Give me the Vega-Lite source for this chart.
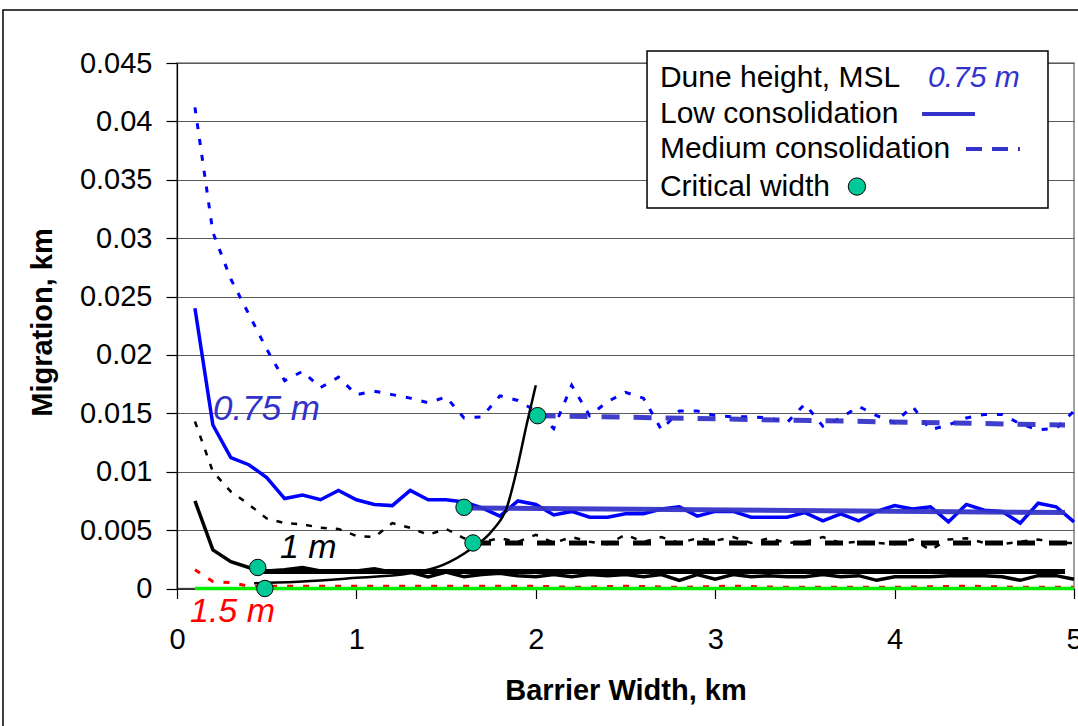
{
  "$schema": "https://vega.github.io/schema/vega-lite/v6.json",
  "autosize": "none",
  "width": 897,
  "height": 525.5,
  "padding": {"left": 177, "top": 63, "right": 4, "bottom": 137.5},
  "background": "white",
  "config": {
    "font": "Liberation Sans",
    "view": {"stroke": "#808080", "strokeWidth": 1.5},
    "axis": {"labelFont": "Liberation Sans", "titleFont": "Liberation Sans", "labelColor": "black", "titleColor": "black", "domainColor": "black", "tickColor": "black", "domainWidth": 1.2, "tickWidth": 1.2}
  },
  "datasets": {
    "low075": [
      {"w": 0.1, "m": 0.0240}, {"w": 0.2, "m": 0.0140}, {"w": 0.3, "m": 0.0112}, {"w": 0.4, "m": 0.0106}, {"w": 0.5, "m": 0.0095},
      {"w": 0.6, "m": 0.0077}, {"w": 0.7, "m": 0.0080}, {"w": 0.8, "m": 0.0076}, {"w": 0.9, "m": 0.0084}, {"w": 1.0, "m": 0.0076},
      {"w": 1.1, "m": 0.0072}, {"w": 1.2, "m": 0.0071}, {"w": 1.3, "m": 0.0084}, {"w": 1.4, "m": 0.0076}, {"w": 1.5, "m": 0.0076},
      {"w": 1.6, "m": 0.0074}, {"w": 1.7, "m": 0.0069}, {"w": 1.8, "m": 0.0062}, {"w": 1.9, "m": 0.0075}, {"w": 2.0, "m": 0.0072},
      {"w": 2.1, "m": 0.0063}, {"w": 2.2, "m": 0.0066}, {"w": 2.3, "m": 0.0061}, {"w": 2.4, "m": 0.0061}, {"w": 2.5, "m": 0.0064},
      {"w": 2.6, "m": 0.0064}, {"w": 2.7, "m": 0.0068}, {"w": 2.8, "m": 0.0070}, {"w": 2.9, "m": 0.0062}, {"w": 3.0, "m": 0.0066},
      {"w": 3.1, "m": 0.0066}, {"w": 3.2, "m": 0.0061}, {"w": 3.3, "m": 0.0061}, {"w": 3.4, "m": 0.0061}, {"w": 3.5, "m": 0.0065},
      {"w": 3.6, "m": 0.0058}, {"w": 3.7, "m": 0.0064}, {"w": 3.8, "m": 0.0058}, {"w": 3.9, "m": 0.0066}, {"w": 4.0, "m": 0.0071},
      {"w": 4.1, "m": 0.0068}, {"w": 4.2, "m": 0.0070}, {"w": 4.3, "m": 0.0057}, {"w": 4.4, "m": 0.0072}, {"w": 4.5, "m": 0.0067},
      {"w": 4.6, "m": 0.0066}, {"w": 4.7, "m": 0.0056}, {"w": 4.8, "m": 0.0073}, {"w": 4.9, "m": 0.0070}, {"w": 5.0, "m": 0.0057}
    ],
    "med075": [
      {"w": 0.1, "m": 0.0412}, {"w": 0.2, "m": 0.0305}, {"w": 0.3, "m": 0.0265}, {"w": 0.4, "m": 0.0235}, {"w": 0.5, "m": 0.0205},
      {"w": 0.6, "m": 0.0178}, {"w": 0.7, "m": 0.0186}, {"w": 0.8, "m": 0.0172}, {"w": 0.9, "m": 0.0181}, {"w": 1.0, "m": 0.0166},
      {"w": 1.1, "m": 0.0169}, {"w": 1.2, "m": 0.0166}, {"w": 1.3, "m": 0.0163}, {"w": 1.4, "m": 0.0159}, {"w": 1.5, "m": 0.0164},
      {"w": 1.6, "m": 0.0146}, {"w": 1.7, "m": 0.0147}, {"w": 1.8, "m": 0.0165}, {"w": 1.9, "m": 0.0161}, {"w": 2.0, "m": 0.0152},
      {"w": 2.1, "m": 0.0137}, {"w": 2.2, "m": 0.0174}, {"w": 2.3, "m": 0.0148}, {"w": 2.4, "m": 0.0160}, {"w": 2.5, "m": 0.0168},
      {"w": 2.6, "m": 0.0163}, {"w": 2.7, "m": 0.0136}, {"w": 2.8, "m": 0.0152}, {"w": 2.9, "m": 0.0152}, {"w": 3.0, "m": 0.0148},
      {"w": 3.1, "m": 0.0147}, {"w": 3.2, "m": 0.0147}, {"w": 3.3, "m": 0.0146}, {"w": 3.4, "m": 0.0142}, {"w": 3.5, "m": 0.0158},
      {"w": 3.6, "m": 0.0139}, {"w": 3.7, "m": 0.0146}, {"w": 3.8, "m": 0.0156}, {"w": 3.9, "m": 0.0148}, {"w": 4.0, "m": 0.0142},
      {"w": 4.1, "m": 0.0156}, {"w": 4.2, "m": 0.0136}, {"w": 4.3, "m": 0.0140}, {"w": 4.4, "m": 0.0146}, {"w": 4.5, "m": 0.0149},
      {"w": 4.6, "m": 0.0149}, {"w": 4.7, "m": 0.0141}, {"w": 4.8, "m": 0.0136}, {"w": 4.9, "m": 0.0137}, {"w": 5.0, "m": 0.0152}
    ],
    "low1": [
      {"w": 0.1, "m": 0.0075}, {"w": 0.2, "m": 0.0033}, {"w": 0.3, "m": 0.0023}, {"w": 0.4, "m": 0.0018}, {"w": 0.5, "m": 0.0015},
      {"w": 0.6, "m": 0.0016}, {"w": 0.7, "m": 0.0018}, {"w": 0.8, "m": 0.0015}, {"w": 0.9, "m": 0.0015}, {"w": 1.0, "m": 0.0015},
      {"w": 1.1, "m": 0.0017}, {"w": 1.2, "m": 0.0014}, {"w": 1.3, "m": 0.0014}, {"w": 1.4, "m": 0.0010}, {"w": 1.5, "m": 0.0014},
      {"w": 1.6, "m": 0.0010}, {"w": 1.7, "m": 0.0012}, {"w": 1.8, "m": 0.0013}, {"w": 1.9, "m": 0.0011}, {"w": 2.0, "m": 0.0010},
      {"w": 2.1, "m": 0.0012}, {"w": 2.2, "m": 0.0010}, {"w": 2.3, "m": 0.0012}, {"w": 2.4, "m": 0.0011}, {"w": 2.5, "m": 0.0012},
      {"w": 2.6, "m": 0.0010}, {"w": 2.7, "m": 0.0012}, {"w": 2.8, "m": 0.0007}, {"w": 2.9, "m": 0.0012}, {"w": 3.0, "m": 0.0008},
      {"w": 3.1, "m": 0.0012}, {"w": 3.2, "m": 0.0010}, {"w": 3.3, "m": 0.0011}, {"w": 3.4, "m": 0.0010}, {"w": 3.5, "m": 0.0010},
      {"w": 3.6, "m": 0.0012}, {"w": 3.7, "m": 0.0010}, {"w": 3.8, "m": 0.0011}, {"w": 3.9, "m": 0.0007}, {"w": 4.0, "m": 0.0010},
      {"w": 4.1, "m": 0.0010}, {"w": 4.2, "m": 0.0010}, {"w": 4.3, "m": 0.0011}, {"w": 4.4, "m": 0.0011}, {"w": 4.5, "m": 0.0011},
      {"w": 4.6, "m": 0.0010}, {"w": 4.7, "m": 0.0007}, {"w": 4.8, "m": 0.0011}, {"w": 4.9, "m": 0.0011}, {"w": 5.0, "m": 0.0008}
    ],
    "med1": [
      {"w": 0.1, "m": 0.0143}, {"w": 0.2, "m": 0.0100}, {"w": 0.3, "m": 0.0083}, {"w": 0.4, "m": 0.0072}, {"w": 0.5, "m": 0.0060},
      {"w": 0.6, "m": 0.0056}, {"w": 0.7, "m": 0.0055}, {"w": 0.8, "m": 0.0052}, {"w": 0.9, "m": 0.0051}, {"w": 1.0, "m": 0.0045},
      {"w": 1.1, "m": 0.0044}, {"w": 1.2, "m": 0.0056}, {"w": 1.3, "m": 0.0052}, {"w": 1.4, "m": 0.0046}, {"w": 1.5, "m": 0.0051},
      {"w": 1.6, "m": 0.0043}, {"w": 1.7, "m": 0.0040}, {"w": 1.8, "m": 0.0043}, {"w": 1.9, "m": 0.0040}, {"w": 2.0, "m": 0.0046},
      {"w": 2.1, "m": 0.0039}, {"w": 2.2, "m": 0.0044}, {"w": 2.3, "m": 0.0040}, {"w": 2.4, "m": 0.0038}, {"w": 2.5, "m": 0.0046},
      {"w": 2.6, "m": 0.0040}, {"w": 2.7, "m": 0.0044}, {"w": 2.8, "m": 0.0039}, {"w": 2.9, "m": 0.0043}, {"w": 3.0, "m": 0.0041},
      {"w": 3.1, "m": 0.0044}, {"w": 3.2, "m": 0.0039}, {"w": 3.3, "m": 0.0043}, {"w": 3.4, "m": 0.0039}, {"w": 3.5, "m": 0.0040},
      {"w": 3.6, "m": 0.0044}, {"w": 3.7, "m": 0.0039}, {"w": 3.8, "m": 0.0040}, {"w": 3.9, "m": 0.0039}, {"w": 4.0, "m": 0.0038},
      {"w": 4.1, "m": 0.0042}, {"w": 4.2, "m": 0.0033}, {"w": 4.3, "m": 0.0042}, {"w": 4.4, "m": 0.0043}, {"w": 4.5, "m": 0.0039},
      {"w": 4.6, "m": 0.0038}, {"w": 4.7, "m": 0.0040}, {"w": 4.8, "m": 0.0042}, {"w": 4.9, "m": 0.0039}, {"w": 5.0, "m": 0.0039}
    ],
    "med15": [
      {"w": 0.1, "m": 0.0016}, {"w": 0.2, "m": 0.0006}, {"w": 0.3, "m": 0.0005}, {"w": 0.4, "m": 0.0002}, {"w": 0.6, "m": 0.0002},
      {"w": 0.8, "m": 0.0002}, {"w": 1.0, "m": 0.0002}, {"w": 1.2, "m": 0.0002}, {"w": 1.4, "m": 0.0002}, {"w": 1.6, "m": 0.0002},
      {"w": 1.8, "m": 0.0002}, {"w": 2.0, "m": 0.0002}, {"w": 2.2, "m": 0.0001}, {"w": 2.5, "m": 0.0002}, {"w": 2.8, "m": 0.0001},
      {"w": 3.1, "m": 0.0002}, {"w": 3.4, "m": 0.0001}, {"w": 3.7, "m": 0.0001}, {"w": 4.0, "m": 0.0001}, {"w": 4.4, "m": 0.0002},
      {"w": 4.7, "m": 0.0001}, {"w": 5.0, "m": 0.0001}
    ],
    "low15": [
      {"w": 0.1, "m": 0.0}, {"w": 5.0, "m": 0.0}
    ],
    "curve": [
      {"w": 0.43, "m": 0.00045}, {"w": 0.7, "m": 0.0006}, {"w": 0.96, "m": 0.00087}, {"w": 1.3, "m": 0.0013},
      {"w": 1.48, "m": 0.002}, {"w": 1.63, "m": 0.0033}, {"w": 1.76, "m": 0.005}, {"w": 1.84, "m": 0.007},
      {"w": 1.89, "m": 0.0099}, {"w": 1.95, "m": 0.0141}, {"w": 2.0, "m": 0.0174}
    ],
    "critical": [
      {"w": 0.45, "m": 0.0018}, {"w": 0.49, "m": 0.0}, {"w": 1.6, "m": 0.00695}, {"w": 1.65, "m": 0.0039}, {"w": 2.01, "m": 0.0148}
    ],
    "trends": [
      {"s": "low075", "w": 1.6, "m": 0.0069}, {"s": "low075", "w": 4.95, "m": 0.0065},
      {"s": "med075", "w": 2.01, "m": 0.0148}, {"s": "med075", "w": 4.95, "m": 0.0140},
      {"s": "low1", "w": 0.45, "m": 0.00145}, {"s": "low1", "w": 4.95, "m": 0.00145},
      {"s": "med1", "w": 1.65, "m": 0.0039}, {"s": "med1", "w": 5.0, "m": 0.0039}
    ]
  },
  "layer": [
    {"data": {"name": "med075"}, "mark": {"type": "line", "color": "#0000ff", "strokeWidth": 3, "strokeDash": [6, 10]},
      "encoding": {
        "x": {"field": "w", "type": "quantitative", "scale": {"domain": [0, 5], "nice": false, "zero": false},
          "axis": {"title": "Barrier Width, km", "values": [0, 1, 2, 3, 4, 5], "format": "d", "grid": false, "labelFontSize": 29, "labelPadding": 27, "tickSize": 10, "titleFontSize": 29, "titleFontWeight": "bold", "titleBaseline": "alphabetic", "titleY": 110.5, "labelFlush": false}},
        "y": {"field": "m", "type": "quantitative", "scale": {"domain": [0, 0.045], "nice": false},
          "axis": {"title": "Migration, km", "values": [0, 0.005, 0.01, 0.015, 0.02, 0.025, 0.03, 0.035, 0.04, 0.045], "format": "~g", "grid": true, "gridColor": "#5a5a5a", "gridWidth": 1, "labelFontSize": 29, "labelPadding": 14, "tickSize": 11, "titleFontSize": 29, "titleFontWeight": "bold", "titleBaseline": "alphabetic", "titleX": -126, "titleY": 259, "titleAlign": "center", "labelFlush": false}}
      }},
    {"data": {"name": "low075"}, "mark": {"type": "line", "color": "#0000ff", "strokeWidth": 3.5},
      "encoding": {"x": {"field": "w", "type": "quantitative"}, "y": {"field": "m", "type": "quantitative"}}},
    {"data": {"name": "med1"}, "mark": {"type": "line", "color": "black", "strokeWidth": 2.5, "strokeDash": [6, 9]},
      "encoding": {"x": {"field": "w", "type": "quantitative"}, "y": {"field": "m", "type": "quantitative"}}},
    {"data": {"name": "low1"}, "mark": {"type": "line", "color": "black", "strokeWidth": 3.5},
      "encoding": {"x": {"field": "w", "type": "quantitative"}, "y": {"field": "m", "type": "quantitative"}}},
    {"data": {"name": "med15"}, "mark": {"type": "line", "color": "#ff0000", "strokeWidth": 3, "strokeDash": [6, 10]},
      "encoding": {"x": {"field": "w", "type": "quantitative"}, "y": {"field": "m", "type": "quantitative"}}},
    {"data": {"name": "low15"}, "mark": {"type": "line", "color": "#00ee00", "strokeWidth": 3.5},
      "encoding": {"x": {"field": "w", "type": "quantitative"}, "y": {"field": "m", "type": "quantitative"}}},
    {"data": {"name": "trends"}, "transform": [{"filter": "datum.s === 'low075'"}], "mark": {"type": "line", "color": "#3535c8", "strokeWidth": 5, "opacity": 0.95},
      "encoding": {"x": {"field": "w", "type": "quantitative"}, "y": {"field": "m", "type": "quantitative"}}},
    {"data": {"name": "trends"}, "transform": [{"filter": "datum.s === 'med075'"}], "mark": {"type": "line", "color": "#3535c8", "strokeWidth": 5, "strokeDash": [18, 14], "opacity": 0.95},
      "encoding": {"x": {"field": "w", "type": "quantitative"}, "y": {"field": "m", "type": "quantitative"}}},
    {"data": {"name": "trends"}, "transform": [{"filter": "datum.s === 'low1'"}], "mark": {"type": "line", "color": "black", "strokeWidth": 5},
      "encoding": {"x": {"field": "w", "type": "quantitative"}, "y": {"field": "m", "type": "quantitative"}}},
    {"data": {"name": "trends"}, "transform": [{"filter": "datum.s === 'med1'"}], "mark": {"type": "line", "color": "black", "strokeWidth": 5, "strokeDash": [18, 14]},
      "encoding": {"x": {"field": "w", "type": "quantitative"}, "y": {"field": "m", "type": "quantitative"}}},
    {"data": {"name": "curve"}, "mark": {"type": "line", "color": "black", "strokeWidth": 2.5, "interpolate": "monotone"},
      "encoding": {"x": {"field": "w", "type": "quantitative"}, "y": {"field": "m", "type": "quantitative"}}},
    {"data": {"name": "critical"}, "mark": {"type": "point", "shape": "circle", "filled": true, "fill": "#00c896", "stroke": "black", "strokeWidth": 1, "size": 270, "opacity": 1},
      "encoding": {"x": {"field": "w", "type": "quantitative"}, "y": {"field": "m", "type": "quantitative"}}},
    {"data": {"values": [{}]}, "mark": {"type": "text", "text": "0.75 m", "fontSize": 35, "fontStyle": "italic", "color": "#3333cc", "align": "left", "baseline": "alphabetic"},
      "encoding": {"x": {"datum": 0.2007}, "y": {"datum": 0.01446}}},
    {"data": {"values": [{}]}, "mark": {"type": "text", "text": "1 m", "fontSize": 34, "fontStyle": "italic", "color": "black", "align": "left", "baseline": "alphabetic"},
      "encoding": {"x": {"datum": 0.574}, "y": {"datum": 0.00261}}},
    {"data": {"values": [{}]}, "mark": {"type": "text", "text": "1.5 m", "fontSize": 34, "fontStyle": "italic", "color": "#ff0000", "align": "left", "baseline": "alphabetic"},
      "encoding": {"x": {"datum": 0.0725}, "y": {"datum": -0.00287}}},
    {"data": {"values": [{}]}, "mark": {"type": "rect", "fill": "white", "stroke": "black", "strokeWidth": 1.5},
      "encoding": {"x": {"datum": 2.62}, "x2": {"datum": 4.855}, "y": {"datum": 0.04602}, "y2": {"datum": 0.03258}}},
    {"data": {"values": [{}]}, "mark": {"type": "text", "text": "Dune height, MSL", "fontSize": 30, "color": "black", "align": "left", "baseline": "alphabetic"},
      "encoding": {"x": {"datum": 2.692}, "y": {"datum": 0.04297}}},
    {"data": {"values": [{}]}, "mark": {"type": "text", "text": "0.75 m", "fontSize": 30, "fontStyle": "italic", "color": "#3333cc", "align": "left", "baseline": "alphabetic"},
      "encoding": {"x": {"datum": 4.186}, "y": {"datum": 0.04297}}},
    {"data": {"values": [{}]}, "mark": {"type": "text", "text": "Low consolidation", "fontSize": 30, "color": "black", "align": "left", "baseline": "alphabetic"},
      "encoding": {"x": {"datum": 2.692}, "y": {"datum": 0.03989}}},
    {"data": {"values": [{}]}, "mark": {"type": "text", "text": "Medium consolidation", "fontSize": 30, "color": "black", "align": "left", "baseline": "alphabetic"},
      "encoding": {"x": {"datum": 2.692}, "y": {"datum": 0.03684}}},
    {"data": {"values": [{}]}, "mark": {"type": "text", "text": "Critical width", "fontSize": 30, "color": "black", "align": "left", "baseline": "alphabetic"},
      "encoding": {"x": {"datum": 2.692}, "y": {"datum": 0.03361}}},
    {"data": {"values": [{}]}, "mark": {"type": "rule", "color": "#3333cc", "strokeWidth": 4},
      "encoding": {"x": {"datum": 4.153}, "x2": {"datum": 4.448}, "y": {"datum": 0.04063}}},
    {"data": {"values": [{}]}, "mark": {"type": "rule", "color": "#3333cc", "strokeWidth": 4, "strokeDash": [16, 10]},
      "encoding": {"x": {"datum": 4.398}, "x2": {"datum": 4.699}, "y": {"datum": 0.03764}}},
    {"data": {"values": [{}]}, "mark": {"type": "point", "shape": "circle", "filled": true, "fill": "#00c896", "stroke": "black", "strokeWidth": 1, "size": 300, "opacity": 1},
      "encoding": {"x": {"datum": 3.79}, "y": {"datum": 0.03442}}},
    {"data": {"values": [{}]}, "mark": {"type": "rect", "fillOpacity": 0, "fill": "white", "stroke": "black", "strokeWidth": 1.5},
      "encoding": {"x": {"datum": -0.97}, "x2": {"datum": 6.5}, "y": {"datum": 0.04953}, "y2": {"datum": -0.03}}}
  ]
}
